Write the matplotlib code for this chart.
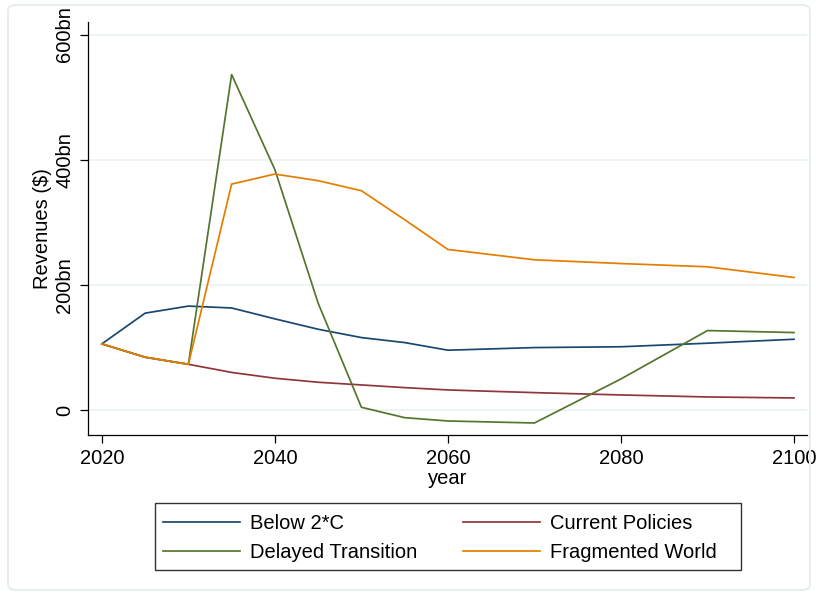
import matplotlib
matplotlib.use("Agg")
import matplotlib.pyplot as plt
from matplotlib.patches import FancyBboxPatch, Rectangle

plt.rcParams['font.family'] = ['Liberation Sans', 'DejaVu Sans']

years = [2020, 2025, 2030, 2035, 2040, 2045, 2050, 2055, 2060, 2070, 2080, 2090, 2100]
below_2c = [105.6, 154.7, 166, 163, 145.6, 129, 115.7, 107.7, 95.5, 99.7, 101, 106.7, 113]
current_policies = [105.6, 84.3, 73, 60, 50.7, 44.3, 40, 35.7, 32, 27.7, 24, 20.8, 19.2]
delayed_transition = [105.6, 84.3, 73, 536, 384, 170.7, 4.3, -12.3, -17.6, -20.8, 49.6, 126.9, 123.7]
fragmented_world = [105.6, 84.3, 73, 361, 377, 366.4, 350.4, 304, 256.5, 240, 234, 228.8, 211.7]

series = [
    ("Below 2*C", below_2c, "#1a476f"),
    ("Current Policies", current_policies, "#90353b"),
    ("Delayed Transition", delayed_transition, "#55752f"),
    ("Fragmented World", fragmented_world, "#e37e00"),
]

yticks = [0, 200, 400, 600]
ytick_labels = ["0", "200bn", "400bn", "600bn"]
xticks = [2020, 2040, 2060, 2080, 2100]

FS = 14.5
W, H = 818, 595

fig = plt.figure(figsize=(8.18, 5.95), dpi=100)
ax = fig.add_axes([88/W, 1 - 435/H, (807 - 88)/W, (435 - 22)/H])

for label, vals, color in series:
    ax.plot(years, vals, color=color, lw=1.25, label=label)

ax.set_xlim(2018.4, 2101.5)
ax.set_ylim(-40, 620)
ax.set_yticks(yticks)
ax.set_yticklabels(ytick_labels, rotation=90, va='center', fontsize=FS)
ax.set_xticks(xticks)
ax.set_xticklabels([str(x) for x in xticks], fontsize=FS)
ax.tick_params(direction='out', length=6, width=0.9, colors='black', pad=4)
ax.grid(axis='y', color='#eaf2f3', lw=1.2)
ax.set_axisbelow(True)
for s in ['top', 'right']:
    ax.spines[s].set_visible(False)
for s in ['left', 'bottom']:
    ax.spines[s].set_linewidth(0.9)
ax.set_ylabel("Revenues ($)", fontsize=FS, labelpad=2)
ax.set_xlabel("year", fontsize=FS, labelpad=1)

handles, labels = ax.get_legend_handles_labels()
order = [0, 2, 1, 3]
leg = fig.legend([handles[i] for i in order], [labels[i] for i in order],
                 ncol=2, loc='center left',
                 bbox_to_anchor=(159/W, 1 - 538/H),
                 fontsize=FS, frameon=False,
                 handlelength=3.8, columnspacing=2.3,
                 borderaxespad=0, handletextpad=0.5, borderpad=0.2,
                 labelspacing=0.5)

fig.patches.append(Rectangle((155/W, 1 - 570/H), (741 - 155)/W, (570 - 503)/H,
                             transform=fig.transFigure, fill=False,
                             edgecolor='#333333', lw=1))

border = FancyBboxPatch((8/W, 5/H), (W - 16)/W, (H - 10)/H,
                        boxstyle="round,pad=0,rounding_size=0.01",
                        transform=fig.transFigure, fill=False,
                        edgecolor='#e6eef0', lw=1.5)
fig.patches.append(border)

fig.savefig("out.png", dpi=100)
